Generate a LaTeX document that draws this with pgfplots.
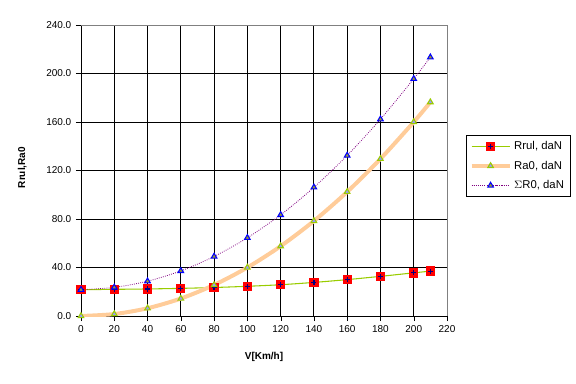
\documentclass[border=0pt]{standalone}
\usepackage{fontspec}
\setmainfont{Liberation Sans}
\usepackage{pgfplots}
\pgfplotsset{compat=1.18}
\definecolor{rrulline}{HTML}{99CC00}
\definecolor{raline}{HTML}{FFCC99}
\definecolor{ramark}{HTML}{9999FF}
\definecolor{sline}{HTML}{800080}
\definecolor{smarkfill}{HTML}{999933}
\definecolor{navyb}{HTML}{000080}
\pgfdeclareplotmark{sqplus}{%
  \pgfpathrectangle{\pgfpoint{-\pgfplotmarksize}{-\pgfplotmarksize}}{\pgfpoint{2\pgfplotmarksize}{2\pgfplotmarksize}}%
  \pgfsetfillcolor{red}\pgfusepathqfill
  \pgfsetstrokecolor{navyb}\pgfsetlinewidth{0.9pt}%
  \pgfpathmoveto{\pgfpoint{-0.55\pgfplotmarksize}{0pt}}\pgfpathlineto{\pgfpoint{0.55\pgfplotmarksize}{0pt}}%
  \pgfpathmoveto{\pgfpoint{0pt}{-0.55\pgfplotmarksize}}\pgfpathlineto{\pgfpoint{0pt}{0.55\pgfplotmarksize}}%
  \pgfusepathqstroke}
\begin{document}
\begin{tikzpicture}
\begin{axis}[
  at={(0,0)}, anchor=south west,
  scale only axis, width=274.5pt, height=218.25pt,
  xmin=0, xmax=220, ymin=0, ymax=240,
  xtick={0,20,...,220}, ytick={0,40,...,240},
  axis lines*=left, axis line style={-,black},
  grid=major, major grid style={black, line width=0.7pt},
  tick align=outside, major tick length=3.75pt, tick style={black},
  yticklabel style={/pgf/number format/.cd, fixed, fixed zerofill, precision=1},
  /pgf/number format/assume math mode=true,
  every tick label/.append style={font=\fontsize{7.5}{9}\selectfont},
  xlabel={\bfseries V[Km/h]}, ylabel={\bfseries Rrul,Ra0},
  label style={font=\fontsize{7.5}{9}\selectfont},
  xlabel style={at={(axis description cs:0.5,0)}, anchor=center, yshift=-31pt},
  ylabel style={at={(axis description cs:0,0.51)}, anchor=center, yshift=44pt},
  legend style={at={(1.052,0.622)}, anchor=north west, draw=black, font=\fontsize{8.5}{10}\selectfont, inner sep=2.5pt, row sep=3pt},
  legend cell align=left,
  every axis plot post/.append style={legend image code/.code={\draw[mark repeat=2,mark phase=2,##1] plot coordinates {(0cm,0cm) (0.5cm,0cm) (1cm,0cm)};}},
  after end axis/.code={\draw[gray] (rel axis cs:0,1) -- (rel axis cs:1,1) -- (rel axis cs:1,0);},
]
\addplot[rrulline, line width=0.8pt, smooth, mark=sqplus, mark size=3.5pt] coordinates {
(0,21.7) (20,22.0) (40,22.3) (60,22.8) (80,23.5) (100,24.5) (120,25.8) (140,27.7) (160,30.0) (180,32.7) (200,35.6) (210,37.0)};
\addlegendentry{Rrul, daN}
\addplot[raline, line width=3pt, smooth, mark=triangle*, mark size=2.4pt, mark options={fill=ramark, draw=rrulline, line width=0.8pt}] coordinates {
(0,0) (20,1.6) (40,6.4) (60,14.4) (80,25.6) (100,40.0) (120,57.6) (140,78.4) (160,102.4) (180,129.6) (200,160.0) (210,176.4)};
\addlegendentry{Ra0, daN}
\addplot[sline, line width=0.6pt, densely dotted, smooth, mark=triangle*, mark size=2.4pt, mark options={solid, fill=smarkfill, draw=blue, line width=0.8pt}] coordinates {
(0,21.7) (20,23.6) (40,28.7) (60,37.2) (80,49.1) (100,64.5) (120,83.4) (140,106.1) (160,132.4) (180,162.3) (200,195.6) (210,213.4)};
\addlegendentry{$\Sigma$R0, daN}
\end{axis}
\pgfresetboundingbox
\useasboundingbox (-60.75pt,-50.25pt) rectangle (371.25pt,237pt);
\end{tikzpicture}
\end{document}
